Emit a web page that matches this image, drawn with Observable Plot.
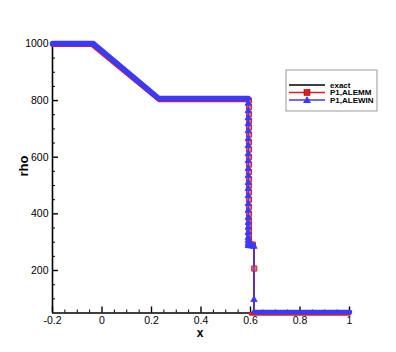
<!DOCTYPE html>
<html><head><meta charset="utf-8">
<script src="https://cdn.jsdelivr.net/npm/d3@7"></script>
<script src="https://cdn.jsdelivr.net/npm/@observablehq/plot@0.6"></script>
<style>body{margin:0;background:#fff}#chart{position:relative;width:396px;height:352px}</style>
</head><body><div id="chart"></div>
<script>
// ---- tick values ----
const xMajorTicks = [-0.2, 0, 0.2, 0.4, 0.6, 0.8, 1];
const xMinorTicks = [-0.15,-0.1,-0.05,0.05,0.1,0.15,0.25,0.3,0.35,0.45,0.5,0.55,0.65,0.7,0.75,0.85,0.9,0.95];
const yMajorTicks = [200, 400, 600, 800, 1000];
const yMinorTicks = [100,150,250,300,350,450,500,550,650,700,750,850,900,950];

// ---- series: exact ----
const exactX   = [-0.2, -0.035, 0.232, 0.592, 0.592, 0.614, 0.614, 1];
const exactRho = [1000, 1000, 806, 806, 290, 290, 50, 50];

// ---- series: P1,ALEMM (red) ----
const mmX   = [-0.2, -0.04, 0.232, 0.594, 0.594, 0.615, 0.615, 0.616, 1];
const mmRho = [1000, 1000, 805, 805, 293, 290, 207, 50, 50];
// dense-marker stretches (markers merge into a band)
const mmBandLeftX = [-0.2, -0.04, 0.232, 0.594];
const mmBandLeftRho = [1000, 1000, 805, 805];
const mmBandRightX = [0.6, 1];
const mmBandRightRho = [50, 50];
// distinct markers in the contact zone
const mmMarkX = [0.594,0.594,0.594,0.594,0.594,0.594,0.594,0.594,0.594,0.594,0.594,0.594,0.594,0.594,0.594,0.594,0.594,0.594,0.594,0.594,0.594,0.594,0.594,0.596,0.602,0.61,0.615];
const mmMarkRho = [800,777,752,728,705,680,653,627,600,574,548,522,500,476,450,424,400,378,360,343,325,311,300,293,292,291,207];

// ---- series: P1,ALEWIN (blue) ----
const winX   = [-0.2, -0.035, 0.23, 0.591, 0.591, 0.6, 0.614, 0.614, 1];
const winRho = [1000, 1000, 806, 806, 288, 287, 286, 50, 50];
const winBandLeftX = [-0.2, -0.035, 0.23, 0.591];
const winBandLeftRho = [1000, 1000, 806, 806];
const winBandRightX = [0.614, 1.002];
const winBandRightRho = [50, 50];
const winMarkX = [0.591,0.591,0.591,0.591,0.591,0.591,0.591,0.591,0.591,0.591,0.591,0.591,0.591,0.591,0.591,0.591,0.591,0.591,0.591,0.591,0.591,0.591,0.591,0.591,0.597,0.603,0.609,0.614,0.614];
const winMarkRho = [790,764,739,718,693,665,641,612,588,560,535,510,489,464,436,412,387,369,352,334,316,306,296,288,287,287,286,285,97];

// ---- legend ----
const legendLabels = ["exact", "P1,ALEMM", "P1,ALEWIN"];
const legendColors = ["#000000", "#dd1c1c", "#3a3aff"];
const legendSymbols = [null, "square", "triangle"];

const RED = legendColors[1], BLUE = legendColors[2];
const pts = (xs, ys) => xs.map((x, i) => ({x, y: ys[i]}));
const fmt = d => String(+(+d).toFixed(1));

const font = "'Liberation Sans', Arial, Helvetica, sans-serif";

const chart = Plot.plot({
  width: 396, height: 352,
  marginLeft: 52, marginRight: 47, marginTop: 42, marginBottom: 39.5,
  style: {fontFamily: font, fontSize: "10.5px", background: "white", color: "black"},
  x: {domain: [-0.2, 1]},
  y: {domain: [50, 1005]},
  marks: [
    // axes lines
    Plot.ruleY([50], {stroke: "black", strokeWidth: 1.6}),
    Plot.ruleX([-0.2], {stroke: "black", strokeWidth: 1.6}),
    // x axis
    Plot.axisX({ticks: xMajorTicks, tickSize: -6, tickPadding: 10, tickFormat: fmt, label: null, strokeWidth: 1.4, fontSize: 10.5}),
    Plot.axisX({ticks: xMinorTicks, tickSize: -3, tickFormat: () => "", label: null, strokeWidth: 1}),
    // y axis
    Plot.axisY({ticks: yMajorTicks, tickSize: -6, tickPadding: 10, tickFormat: fmt, label: null, strokeWidth: 1.4, fontSize: 10.5}),
    Plot.axisY({ticks: yMinorTicks, tickSize: -3, tickFormat: () => "", label: null, strokeWidth: 1}),
    // exact
    Plot.line(pts(exactX, exactRho), {x: "x", y: "y", stroke: legendColors[0], strokeWidth: 1.5}),
    // ALEMM
    Plot.line(pts(mmBandLeftX, mmBandLeftRho), {x: "x", y: "y", stroke: RED, strokeWidth: 5, dy: 0.7}),
    Plot.line(pts(mmBandRightX, mmBandRightRho), {x: "x", y: "y", stroke: RED, strokeWidth: 4, dy: 0.8}),
    Plot.line(pts(mmX, mmRho), {x: "x", y: "y", stroke: RED, strokeWidth: 1.2}),
    Plot.dot(pts(mmMarkX, mmMarkRho), {x: "x", y: "y", symbol: "square", r: 2.9, fill: "#ee7070", stroke: RED, strokeWidth: 1}),
    // ALEWIN
    Plot.line(pts(winBandLeftX, winBandLeftRho), {x: "x", y: "y", stroke: BLUE, strokeWidth: 5.5, dy: -0.3}),
    Plot.line(pts(winBandRightX, winBandRightRho), {x: "x", y: "y", stroke: BLUE, strokeWidth: 4.5, dy: -1}),
    Plot.line(pts(winX, winRho), {x: "x", y: "y", stroke: BLUE, strokeWidth: 1.2}),
    Plot.dot(pts(winMarkX, winMarkRho), {x: "x", y: "y", symbol: "triangle", r: 2.4, fill: BLUE, stroke: BLUE, strokeWidth: 0.8})
  ]
});

const svg = d3.select(chart);
// axis titles
svg.append("text").attr("x", 200).attr("y", 337).attr("text-anchor", "middle")
  .attr("font-family", font).attr("font-weight", "bold").attr("font-size", 12).text("x");
svg.append("text").attr("transform", "translate(28,166) rotate(-90)").attr("text-anchor", "middle")
  .attr("font-family", font).attr("font-weight", "bold").attr("font-size", 13).text("rho");

// legend
const lg = svg.append("g").attr("text-anchor", "start");
lg.append("rect").attr("x", 286).attr("y", 70).attr("width", 91).attr("height", 41)
  .attr("fill", "white").attr("stroke", "#999").attr("stroke-width", 1);
legendLabels.forEach((lab, i) => {
  const yy = 85 + i * 7.5;
  lg.append("line").attr("x1", 289).attr("x2", 325).attr("y1", yy).attr("y2", yy)
    .attr("stroke", legendColors[i]).attr("stroke-width", 1.5);
  if (legendSymbols[i] === "square") {
    lg.append("rect").attr("x", 304).attr("y", yy - 3).attr("width", 6).attr("height", 6)
      .attr("fill", legendColors[i]).attr("stroke", "#a00").attr("stroke-width", 0.6);
  } else if (legendSymbols[i] === "triangle") {
    lg.append("path").attr("d", `M307,${yy - 4}L311,${yy + 3}L303,${yy + 3}Z`).attr("fill", legendColors[i]);
  }
  lg.append("text").attr("x", 330).attr("y", yy).attr("dy", "0.35em").attr("text-anchor", "start")
    .attr("font-family", font).attr("font-weight", "bold").attr("font-size", 8).text(lab);
});

document.getElementById("chart").append(chart);
</script>
</body></html>
